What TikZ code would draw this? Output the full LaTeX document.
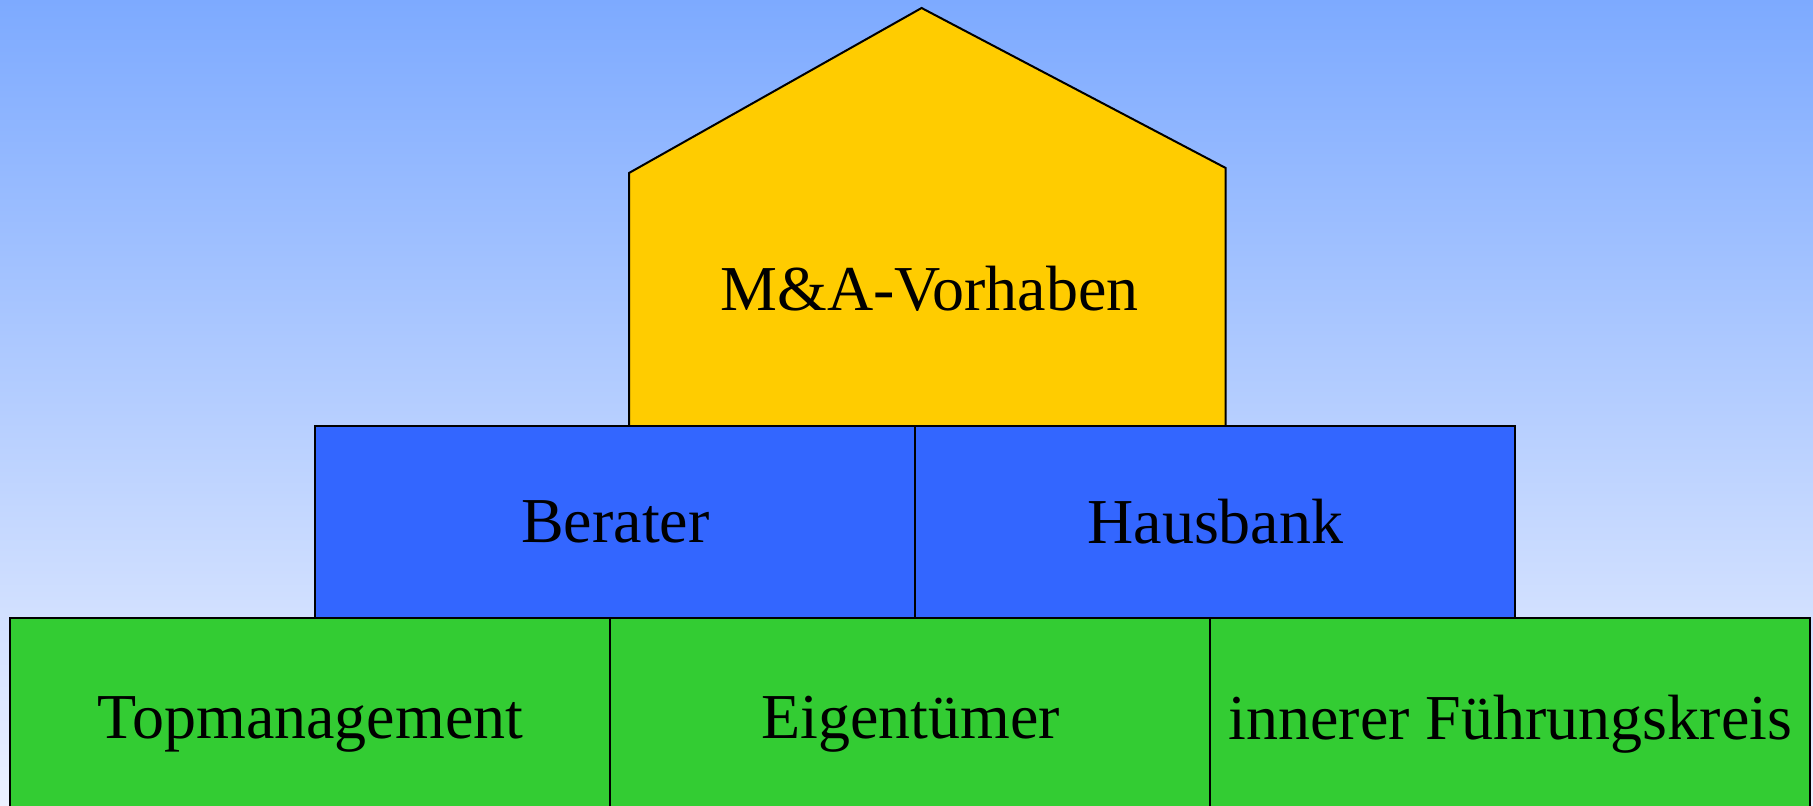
\documentclass[tikz,border=0pt]{standalone}
\usepackage{fontspec}
\setmainfont{Liberation Serif}
\usetikzlibrary{positioning}
\definecolor{skytop}{RGB}{125,170,255}
\definecolor{skybot}{RGB}{236,241,255}
\definecolor{roofyellow}{RGB}{255,204,0}
\definecolor{midblue}{RGB}{51,102,255}
\definecolor{basegreen}{RGB}{51,204,51}
\tikzset{
  block/.style={draw=black, line width=2pt, outer sep=0pt, inner sep=0pt,
    minimum width=600pt, minimum height=192pt, font=\fontsize{64}{76}\selectfont},
  greenblock/.style={block, fill=basegreen, minimum height=213pt},
  blueblock/.style={block, fill=midblue}
}
\begin{document}
\begin{tikzpicture}[x=1pt,y=-1pt]
    \useasboundingbox (0,0) rectangle (1813,806);
    \clip (0,0) rectangle (1813,806);
    \shade[top color=skytop, bottom color=skybot] (0,0) rectangle (1813,806);
    % Haus
    \draw[line width=2pt, fill=roofyellow] (629,426) -- (629,173) -- (921.6,8) -- (1225.7,168) -- (1225.7,426) -- cycle;
    \node[font=\fontsize{64}{76}\selectfont] (vorhaben) at (929.6,289) {M\&A-Vorhaben};
    % Fundament
    \node[greenblock, anchor=north west] (topm) at (10.4,617.5) {Topmanagement};
    \node[greenblock, right=0pt of topm] (eigner) {Eigentümer};
    \node[greenblock, right=0pt of eigner] (kreis) {innerer Führungskreis};
    % Mitte
    \node[blueblock, anchor=south west] (berater) at ([xshift=5pt]topm.north) {Berater};
    \node[blueblock, right=0pt of berater] (bank) {Hausbank};
\end{tikzpicture}
\end{document}
